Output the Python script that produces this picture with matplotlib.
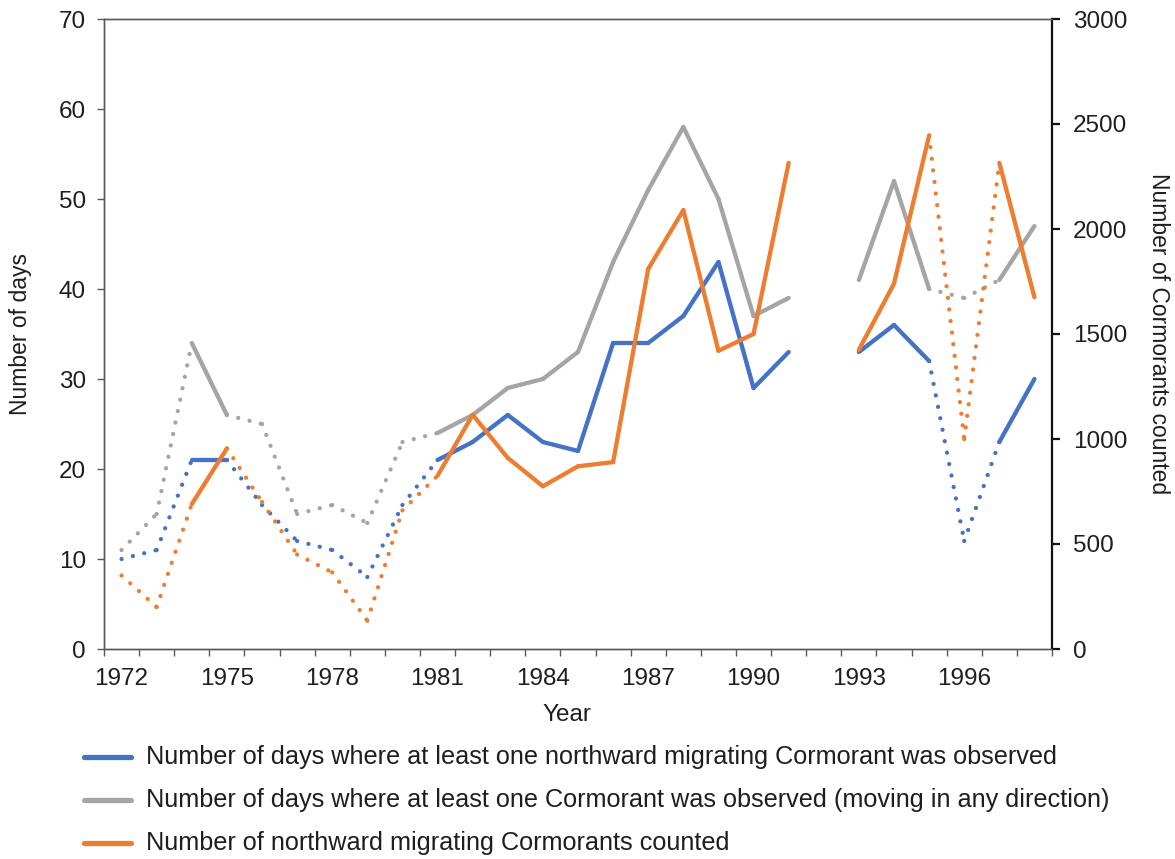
import matplotlib
matplotlib.use("Agg")
import matplotlib.pyplot as plt
from matplotlib.lines import Line2D
import numpy as np

plt.rcParams['font.family'] = ['Liberation Sans', 'DejaVu Sans']

years = list(range(1972, 1999))
days_north = [10, 11, 21, 21, 16, 12, 11, 8, 16, 21, 23, 26, 23, 22, 34, 34, 37, 43, 29, 33,
              None, 33, 36, 32, 12, 23, 30]
days_any = [11, 15, 34, 26, 25, 15, 16, 14, 23, 24, 26, 29, 30, 33, 43, 51, 58, 50, 37, 39,
            None, 41, 52, 40, 39, 41, 47]
birds_north = [350, 200, 690, 955, 700, 450, 365, 135, 660, 825, 1115, 910, 775, 870, 890,
               1810, 2090, 1420, 1500, 2315, None, 1425, 1740, 2445, 1000, 2315, 1675]
# years with complete coverage (solid line); others drawn dotted
complete = [0, 0, 1, 1, 0, 0, 0, 0, 0, 1, 1, 1, 1, 1, 1, 1, 1, 1, 1, 1, 1, 1, 1, 1, 0, 1, 1]

labels = ["Number of days where at least one northward migrating Cormorant was observed",
          "Number of days where at least one Cormorant was observed (moving in any direction)",
          "Number of northward migrating Cormorants counted"]
BLUE, GRAY, ORANGE = "#4472C4", "#A5A5A5", "#ED7D31"
TXT = "#1e1e1e"
FS = 17.5

W, H = 1175, 859
fig = plt.figure(figsize=(W / 100, H / 100), dpi=100)
L, R, T, B = 104, 1052, 19, 649
ax = fig.add_axes([L / W, 1 - B / H, (R - L) / W, (B - T) / H])
ax2 = ax.twinx()

x = np.arange(len(years))
LW = 3.1


def draw(axis, vals, color, z):
    n = len(vals)
    for i in range(n - 1):
        a, b = vals[i], vals[i + 1]
        if a is None or b is None:
            continue
        solid = complete[i] and complete[i + 1]
        if solid:
            axis.plot(x[i:i + 2], [a, b], color=color, lw=LW, solid_capstyle='round',
                      solid_joinstyle='round', zorder=z)
        else:
            axis.plot(x[i:i + 2], [a, b], color=color, lw=LW, linestyle=(0, (0.01, 2.7)),
                      dash_capstyle='round', zorder=z)


draw(ax, days_north, BLUE, 3)
draw(ax, days_any, GRAY, 2)
draw(ax2, birds_north, ORANGE, 3)

ax.set_xlim(-0.5, len(years) - 0.5)
ax.set_ylim(0, 70)
ax2.set_ylim(0, 3000)
ax.set_yticks(np.arange(0, 71, 10))
ax2.set_yticks(np.arange(0, 3001, 500))

ax.set_xticks(np.arange(-0.5, len(years)), labels=[])
ax.set_xticks(x[::3], labels=[str(y) for y in years[::3]], minor=True)
ax.tick_params(axis='x', which='major', direction='out', length=5, width=1, color='#595959')
ax.tick_params(axis='x', which='minor', length=0, pad=14, labelsize=FS, labelcolor=TXT)
ax.tick_params(axis='y', direction='out', length=5, width=1, color='#595959',
               labelsize=FS, labelcolor=TXT, pad=8)
ax2.tick_params(axis='y', direction='out', length=6, width=1.6, color='#111111',
                labelsize=FS, labelcolor=TXT, pad=9)

for s in ['left', 'bottom', 'top']:
    ax.spines[s].set_color('#595959')
    ax.spines[s].set_linewidth(1)
    ax2.spines[s].set_color('#595959')
    ax2.spines[s].set_linewidth(1)
ax2.spines['right'].set_color('#111111')
ax2.spines['right'].set_linewidth(1.6)
ax.spines['right'].set_visible(False)

fig.text(567 / W, 1 - 715 / H, "Year", fontsize=FS, color=TXT, ha='center', va='center')
fig.text(21 / W, 1 - 334 / H, "Number of days", fontsize=16.5, color=TXT, ha='center',
         va='center', rotation=90)
fig.text(1159 / W, 1 - 334 / H, "Number of Cormorants counted", fontsize=16.5, color=TXT,
         ha='center', va='center', rotation=270)

# legend (manual placement)
for k, (c, lab) in enumerate(zip((BLUE, GRAY, ORANGE), labels)):
    yy = 1 - (757 + 43 * k) / H
    fig.add_artist(Line2D([84 / W, 131 / W], [yy, yy], color=c, lw=3.8,
                          solid_capstyle='round', transform=fig.transFigure))
    fig.text(146 / W, yy, lab, fontsize=18.2, color=TXT, ha='left', va='center')

fig.savefig("out.png", dpi=100)
